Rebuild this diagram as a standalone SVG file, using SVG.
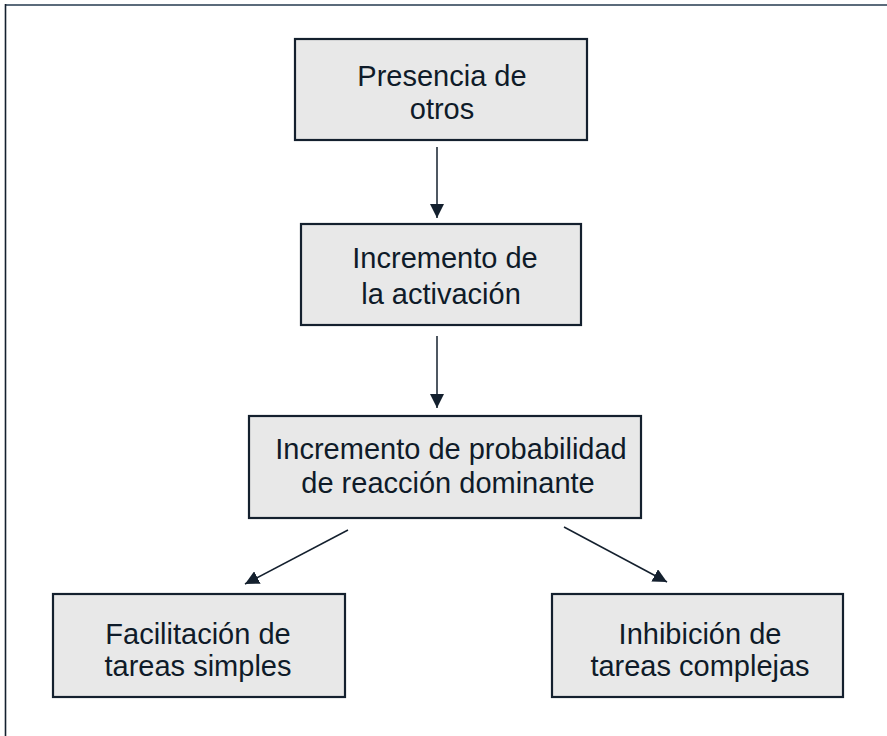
<svg xmlns="http://www.w3.org/2000/svg" width="887" height="736" viewBox="0 0 887 736">
<defs>
<style>
.box{fill:#e8e8e8;stroke:#14202e;stroke-width:2.2}
.t{font-family:"Liberation Sans",Arial,sans-serif;font-size:29px;fill:#0f1b29;text-anchor:middle}
.c{stroke:#14202e;stroke-width:1.5;fill:none}
</style>
<marker id="ah2" viewBox="0 0 10 10" refX="10" refY="5" markerWidth="14" markerHeight="14" markerUnits="userSpaceOnUse" orient="auto">
<path d="M0,0 L10,5 L0,10 Z" fill="#14202e"/>
</marker>
</defs>
<rect width="887" height="736" fill="#ffffff"/>
<line x1="5" y1="5" x2="887" y2="5" stroke="#5b6b7b" stroke-width="2"/>
<line x1="5.5" y1="4" x2="5.5" y2="736" stroke="#14202e" stroke-width="1.6"/>
<g id="connectors">
<line class="c" x1="437" y1="147" x2="437" y2="218" marker-end="url(#ah2)"/>
<line class="c" x1="437" y1="336" x2="437" y2="408" marker-end="url(#ah2)"/>
<line class="c" x1="348" y1="530" x2="245" y2="584" marker-end="url(#ah2)"/>
<line class="c" x1="564" y1="527" x2="667" y2="582" marker-end="url(#ah2)"/>
</g>
<g id="n1">
<rect class="box" x="295" y="39" width="292" height="101"/>
<text class="t" x="442" y="86">Presencia de</text>
<text class="t" x="442" y="119">otros</text>
</g>
<g id="n2">
<rect class="box" x="301" y="224" width="280" height="101"/>
<text class="t" x="445" y="268">Incremento de</text>
<text class="t" x="441" y="304">la activación</text>
</g>
<g id="n3">
<rect class="box" x="249" y="416" width="392" height="102"/>
<text class="t" x="451" y="459">Incremento de probabilidad</text>
<text class="t" x="448" y="493">de reacción dominante</text>
</g>
<g id="n4">
<rect class="box" x="53" y="594" width="292" height="103"/>
<text class="t" x="198" y="644">Facilitación de</text>
<text class="t" x="198" y="676">tareas simples</text>
</g>
<g id="n5">
<rect class="box" x="552" y="594" width="291" height="103"/>
<text class="t" x="700" y="644">Inhibición de</text>
<text class="t" x="700" y="676">tareas complejas</text>
</g>
</svg>
